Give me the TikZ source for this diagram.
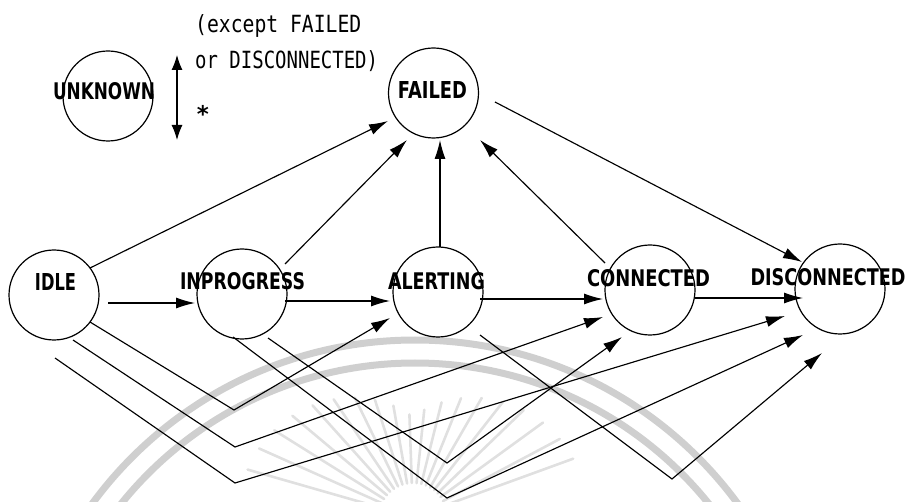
\documentclass[tikz,border=0pt]{standalone}
\usepackage{fontspec}
\usepackage{graphicx}
\usetikzlibrary{arrows.meta}
\newfontfamily\statefont{DejaVu Sans}
\newfontfamily\notefont{DejaVu Sans Mono}
% bold state name squeezed to a given width, caps 17pt high
\newcommand\stlabel[2]{\resizebox{#1pt}{17pt}{\statefont\bfseries #2}}
\begin{document}
\begin{tikzpicture}[x=1pt,y=-1pt,
  stcircle/.style={circle, draw, line width=1.2pt, minimum size=90pt, inner sep=0pt},
  sttext/.style={inner sep=0pt, text=black},
  conn/.style={line width=1.15pt, -{Latex[length=19pt,width=11pt]}},
  dblconn/.style={line width=1.15pt, {Latex[length=15pt,width=11pt]}-{Latex[length=15pt,width=11pt]}},
  sealband/.style={draw=black!19, line width=7pt},
  sealray/.style={draw=black!12, line width=2.6pt, line cap=round}]
\useasboundingbox (0,0) rectangle (913,502);

% faint seal printed behind the chart
\begin{scope}
  \clip (0,0) rectangle (913,502);
  \coordinate (seal) at (415,740);
  \coordinate (sun) at (413,517);
  \draw[sealband] (seal) circle (400);
  \draw[sealband] (seal) circle (377);
  \foreach \a in {196,204,...,344}
    \draw[sealray] ([shift={(\a:34)}]sun) -- ([shift={(\a:{100+75*abs(cos(\a))})}]sun);
\end{scope}

% states
\node[stcircle] (unknown) at (108,96) {};
\node[stcircle] (failed)  at (433.5,93) {};
\node[stcircle] (idle)    at (54,295) {};
\node[stcircle] (inprog)  at (242,294) {};
\node[stcircle] (alert)   at (438,292) {};
\node[stcircle] (conn)    at (650,290) {};
\node[stcircle] (disc)    at (840,289) {};

\node[sttext] (unknown-t) at (104,91)    {\stlabel{102}{UNKNOWN}};
\node[sttext] (failed-t)  at (432.5,90)  {\stlabel{69}{FAILED}};
\node[sttext] (idle-t)    at (55.5,282)  {\stlabel{41}{IDLE}};
\node[sttext] (inprog-t)  at (242.5,281.5) {\stlabel{125}{INPROGRESS}};
\node[sttext] (alert-t)   at (436.5,281) {\stlabel{97}{ALERTING}};
\node[sttext] (conn-t)    at (648.5,278) {\stlabel{123}{CONNECTED}};
\node[sttext] (disc-t)    at (828,277)   {\stlabel{155}{DISCONNECTED}};

% note on the UNKNOWN transitions
\coordinate (any-top) at (177,55);
\coordinate (any-bot) at (177,140);
\draw[dblconn] (any-top) -- (any-bot);
\node[sttext, anchor=base west] (note1) at (195,33)
  {\scalebox{0.9}[1.08]{\fontsize{21.9}{22}\notefont (except FAILED}};
\node[sttext, anchor=base west] (note2) at (195,69)
  {\scalebox{0.867}[1.08]{\fontsize{21.9}{22}\notefont or DISCONNECTED)}};
\node[sttext] (star) at (203,114) {\fontsize{23}{23}\statefont\bfseries *};

% main sequence
\draw[conn] ([shift={(54,8)}]idle.center)   -- ([shift={(-47,9)}]inprog.center);
\draw[conn] ([shift={(43,7)}]inprog.center) -- ([shift={(-48,9)}]alert.center);
\draw[conn] ([shift={(42,7)}]alert.center)  -- ([shift={(-47,9)}]conn.center);
\draw[conn] ([shift={(45,8)}]conn.center)   -- ([shift={(-37,9)}]disc.center);

% failures
\draw[conn] ([shift={(36,-27)}]idle.center)   -- ([shift={(-45.5,28)}]failed.center);
\draw[conn] ([shift={(43,-30)}]inprog.center) -- ([shift={(-26.5,47)}]failed.center);
\draw[conn] ([shift={(2,-45)}]alert.center)   -- ([shift={(6.5,47)}]failed.center);
\draw[conn] ([shift={(-45,-27)}]conn.center)  -- ([shift={(46.5,47)}]failed.center);
\draw[conn] ([shift={(61.5,9)}]failed.center) -- ([shift={(-38,-27)}]disc.center);

% skipping transitions, routed below the row
\coordinate (v1) at (234,410);
\coordinate (v2) at (235,447);
\coordinate (v3) at (235,483);
\coordinate (v4) at (447,463);
\coordinate (v5) at (447,498);
\coordinate (v6) at (672,479);
\draw[conn] ([shift={(36,27)}]idle.center)   -- (v1) -- ([shift={(-48,26)}]alert.center);
\draw[conn] ([shift={(19,45)}]idle.center)   -- (v2) -- ([shift={(-47,27)}]conn.center);
\draw[conn] ([shift={(1,63)}]idle.center)    -- (v3) -- ([shift={(-55,27)}]disc.center);
\draw[conn] ([shift={(26,44)}]inprog.center) -- (v4) -- ([shift={(-28,47)}]conn.center);
\draw[conn] ([shift={(-9,43)}]inprog.center) -- (v5) -- ([shift={(-37,46)}]disc.center);
\draw[conn] ([shift={(42,43)}]alert.center)  -- (v6) -- ([shift={(-18,64)}]disc.center);
\end{tikzpicture}
\end{document}
